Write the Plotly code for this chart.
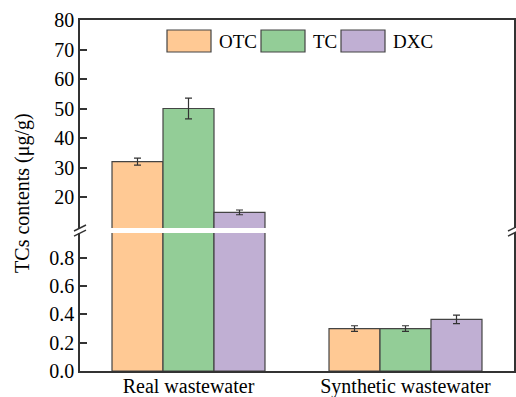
import plotly.graph_objects as go

categories = ["Real wastewater", "Synthetic wastewater"]
series = ["OTC", "TC", "DXC"]
otc = [32.0, 0.30]
otc_err = [1.2, 0.02]
tc = [50.0, 0.30]
tc_err = [3.5, 0.02]
dxc = [14.8, 0.365]
dxc_err = [0.8, 0.03]
colors = ["#FFC994", "#93CD97", "#C0AFD3"]
upper_ticks = [20, 30, 40, 50, 60, 70, 80]
lower_ticks = [0.0, 0.2, 0.4, 0.6, 0.8]

FONT = "Liberation Serif, Times New Roman, serif"
LINE = "#333333"

values = [otc, tc, dxc]
errs = [otc_err, tc_err, dxc_err]

fig = go.Figure()
for ax in [("x", "y"), ("x2", "y2")]:
    for name, v, e, c in zip(series, values, errs, colors):
        fig.add_trace(go.Bar(
            x=categories, y=v, name=name, xaxis=ax[0], yaxis=ax[1],
            marker=dict(color=c, line=dict(color="#444444", width=1.2)),
            error_y=dict(type="data", array=e, visible=True, color=LINE,
                         thickness=1.2, width=3.5),
            showlegend=False,
        ))

# geometry (paper coords)
lower_top = 0.393
upper_bot = 0.4074

fig.update_layout(
    width=516, height=397,
    margin=dict(l=80, r=2, t=20, b=26),
    plot_bgcolor="white", paper_bgcolor="white",
    barmode="group", bargap=0.295, bargroupgap=0,
    font=dict(family=FONT, size=20, color="black"),
    xaxis=dict(domain=[0, 1], anchor="y", showline=True, linecolor=LINE, linewidth=1.5,
               ticks="", tickfont=dict(size=20), range=[-0.5, 1.5], automargin=False,
               ticklabelstandoff=-4),
    xaxis2=dict(domain=[0, 1], anchor="y2", matches="x", showline=True, linecolor=LINE,
                linewidth=1.5, side="top", showticklabels=False, ticks="", range=[-0.5, 1.5],
                automargin=False),
    yaxis=dict(domain=[0, lower_top], range=[0, 0.975], tickvals=lower_ticks,
               ticktext=[f"{t:.1f}" for t in lower_ticks],
               showline=True, mirror=True, linecolor=LINE, linewidth=1.5,
               ticks="inside", ticklen=7, tickcolor=LINE, tickwidth=1.5,
               showgrid=False, zeroline=False, tickfont=dict(size=20), automargin=False),
    yaxis2=dict(domain=[upper_bot, 1], range=[9.5, 80], tickvals=upper_ticks,
                showline=True, mirror=True, linecolor=LINE, linewidth=1.5,
                ticks="inside", ticklen=7, tickcolor=LINE, tickwidth=1.5,
                showgrid=False, zeroline=False, tickfont=dict(size=20), automargin=False),
)

# y-axis title
fig.add_annotation(text="TCs contents (μg/g)", textangle=-90, xref="paper", yref="paper",
                   x=-0.134, y=0.507, xanchor="center", yanchor="middle",
                   showarrow=False, font=dict(size=20))

# axis break marks
W, H = 434.0, 351.0
for xp in [0.0, 1.0]:
    for yb in [upper_bot, lower_top]:
        fig.add_shape(type="line", xref="paper", yref="paper",
                      x0=xp - 6 / W, y0=yb - 3 / H, x1=xp + 6 / W, y1=yb + 3 / H,
                      line=dict(color=LINE, width=1.5))

# custom legend
def px(x):
    return (x - 80) / W

def py(y):
    return (371 - y) / H

legend_boxes = [(167, 211, 217), (261, 305, 311), (341, 385, 391)]
for (x0, x1, xt), name, c in zip(legend_boxes, series, colors):
    fig.add_shape(type="rect", xref="paper", yref="paper",
                  x0=px(x0), x1=px(x1), y0=py(52), y1=py(30),
                  fillcolor=c, line=dict(color="#444444", width=1.2))
    fig.add_annotation(text=name, xref="paper", yref="paper", x=px(xt), y=py(41),
                       xanchor="left", yanchor="middle", showarrow=False,
                       font=dict(size=19))

fig.write_html("out.html")
